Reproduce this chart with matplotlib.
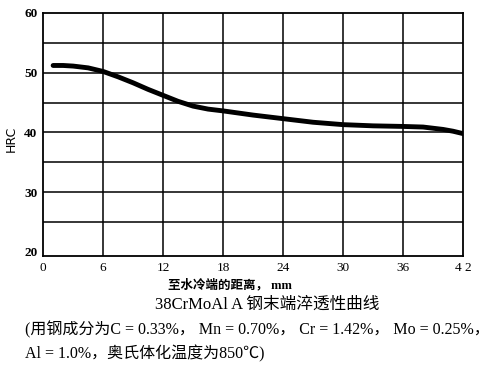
import matplotlib
matplotlib.use("Agg")
import matplotlib.pyplot as plt
import numpy as np

plt.rcParams['font.family'] = ['Noto Sans CJK SC', 'DejaVu Sans']
mixed = ['Liberation Serif', 'Noto Sans CJK SC']

distance = [1, 2, 3, 4.5, 6, 7.5, 9, 10.5, 12, 13.5, 15, 16.5, 18, 21, 24, 27, 30, 33, 36, 38, 40, 41, 42]
hrc = [51.2, 51.2, 51.1, 50.8, 50.2, 49.3, 48.3, 47.2, 46.2, 45.2, 44.4, 43.9, 43.6, 42.9, 42.3, 41.7, 41.3, 41.1, 41.0, 40.9, 40.5, 40.2, 39.8]
xticks = [0, 6, 12, 18, 24, 30, 36, 42]
xticklabels = ['0', '6', '12', '18', '24', '30', '36', '4 2']
yticks = [20, 30, 40, 50, 60]
ygrid = [25, 30, 35, 40, 45, 50, 55]

fig = plt.figure(figsize=(4.9, 3.68), dpi=100)
ax = fig.add_axes([0.088, 0.304, 0.857, 0.661])
ax.set_xlim(0, 42)
ax.set_ylim(19.3, 60)
for g in ygrid:
    ax.axhline(g, color='black', lw=1.1, zorder=1)
for g in xticks[1:-1]:
    ax.axvline(g, color='black', lw=1.1, zorder=1)
ax.plot(distance, hrc, color='black', lw=3.5, solid_capstyle='round', solid_joinstyle='round', zorder=3)
for s in ax.spines.values():
    s.set_linewidth(1.3)
ax.set_xticks(xticks)
ax.set_xticklabels(xticklabels, family='Liberation Serif', fontsize=9.5)
ax.set_yticks(yticks)
ax.set_yticklabels([str(v) for v in yticks], family='Liberation Serif', fontsize=9.5, fontweight='bold')
ax.tick_params(length=0, pad=4)
ax.set_ylabel('HRC', fontsize=9, family='DejaVu Sans')
ax.yaxis.set_label_coords(-0.06, 0.48)

fig.text(0.47, 0.225, '至水冷端的距离， mm', ha='center', va='center', fontsize=9, fontweight='bold', family=mixed)
fig.text(0.545, 0.172, '38CrMoAl A 钢末端淬透性曲线', ha='center', va='center', fontsize=12, family=mixed)
fig.text(0.05, 0.103, '(用钢成分为C = 0.33%， Mn = 0.70%， Cr = 1.42%， Mo = 0.25%，', ha='left', va='center', fontsize=11.5, family=mixed)
fig.text(0.05, 0.04, 'Al = 1.0%，奥氏体化温度为850℃)', ha='left', va='center', fontsize=11.5, family=mixed)

fig.savefig('out.png', dpi=100)
